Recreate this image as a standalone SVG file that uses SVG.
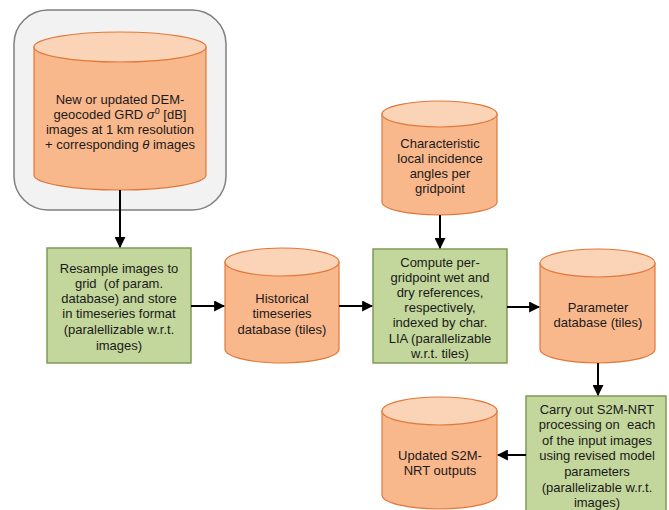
<svg xmlns="http://www.w3.org/2000/svg" width="669" height="510" viewBox="0 0 669 510">
<defs>
<style>
.cyl-body{fill:#F9B78C;stroke:#E0783A;stroke-width:1.2}
.cyl-top{fill:#FBD3B6;stroke:#E0783A;stroke-width:1.2}
.box{fill:#C3D69B;stroke:#7F9A5A;stroke-width:1.5}
.frame{fill:#F2F2F2;stroke:#7F7F7F;stroke-width:1.5}
text{font-family:"Liberation Sans",Arial,sans-serif;font-size:13px;fill:#1a1a1a;text-anchor:middle;white-space:pre}
.conn{stroke:#000;stroke-width:2;fill:none;marker-end:url(#arr)}
</style>
<marker id="arr" viewBox="0 0 10 10" refX="9" refY="5" markerWidth="5.5" markerHeight="5.5" markerUnits="strokeWidth" orient="auto">
<path d="M0,0 L10,5 L0,10 z" fill="#000"/>
</marker>
</defs>
<rect width="669" height="510" fill="#fff"/>

<g id="frame">
<rect class="frame" x="14" y="10" width="212" height="200" rx="34" ry="34"/>
</g>

<g id="n-input">
<path class="cyl-body" d="M34,47 L34,175 A86,15 0 0 0 206,175 L206,47 Z"/>
<ellipse class="cyl-top" cx="120" cy="47" rx="86" ry="15"/>
<text x="120" y="104">New or updated DEM-</text>
<text x="120" y="119">geocoded GRD <tspan font-style="italic">σ</tspan><tspan font-size="9" dy="-5">0</tspan><tspan dy="5"> [dB]</tspan></text>
<text x="120" y="134">images at 1 km resolution</text>
<text x="120" y="149">+ corresponding <tspan font-style="italic">θ</tspan> images</text>
</g>

<g id="n-resample">
<rect class="box" x="47" y="248" width="144" height="115"/>
<text x="119" y="273">Resample images to</text>
<text x="119" y="288" xml:space="preserve">grid  (of param.</text>
<text x="119" y="303">database) and store</text>
<text x="119" y="318">in timeseries format</text>
<text x="119" y="334">(paralellizable w.r.t.</text>
<text x="119" y="350">images)</text>
</g>

<g id="n-hist">
<path class="cyl-body" d="M225,262 L225,349 A57,14 0 0 0 339,349 L339,262 Z"/>
<ellipse class="cyl-top" cx="282" cy="262" rx="57" ry="14"/>
<text x="282" y="303">Historical</text>
<text x="282" y="318">timeseries</text>
<text x="282" y="334">database (tiles)</text>
</g>

<g id="n-lia">
<path class="cyl-body" d="M382,114 L382,202 A57.5,13 0 0 0 497,202 L497,114 Z"/>
<ellipse class="cyl-top" cx="439.5" cy="114" rx="57.5" ry="13"/>
<text x="440" y="148">Characteristic</text>
<text x="440" y="163">local incidence</text>
<text x="440" y="178">angles per</text>
<text x="440" y="193">gridpoint</text>
</g>

<g id="n-compute">
<rect class="box" x="373" y="249" width="134" height="114"/>
<text x="440" y="267">Compute per-</text>
<text x="440" y="282">gridpoint wet and</text>
<text x="440" y="297">dry references,</text>
<text x="440" y="312">respectively,</text>
<text x="440" y="327">indexed by char.</text>
<text x="440" y="343">LIA (parallelizable</text>
<text x="440" y="358">w.r.t. tiles)</text>
</g>

<g id="n-param">
<path class="cyl-body" d="M540,263 L540,349 A57.5,14 0 0 0 655,349 L655,263 Z"/>
<ellipse class="cyl-top" cx="597.5" cy="263" rx="57.5" ry="14"/>
<text x="598" y="312">Parameter</text>
<text x="598" y="327">database (tiles)</text>
</g>

<g id="n-s2m">
<rect class="box" x="526" y="396" width="140" height="118"/>
<text x="597" y="414">Carry out S2M-NRT</text>
<text x="597" y="429" xml:space="preserve">processing on  each</text>
<text x="597" y="445">of the input images</text>
<text x="597" y="460">using revised model</text>
<text x="597" y="476">parameters</text>
<text x="597" y="492">(parallelizable w.r.t.</text>
<text x="597" y="507">images)</text>
</g>

<g id="n-out">
<path class="cyl-body" d="M382,411 L382,495 A57.5,14 0 0 0 497,495 L497,411 Z"/>
<ellipse class="cyl-top" cx="439.5" cy="411" rx="57.5" ry="14"/>
<text x="440" y="460">Updated S2M-</text>
<text x="440" y="475">NRT outputs</text>
</g>

<g id="connectors">
<line class="conn" x1="120" y1="190" x2="120" y2="247"/>
<line class="conn" x1="191" y1="306" x2="224" y2="306"/>
<line class="conn" x1="339" y1="306" x2="372" y2="306"/>
<line class="conn" x1="440" y1="215" x2="440" y2="248"/>
<line class="conn" x1="507" y1="307" x2="539" y2="307"/>
<line class="conn" x1="598" y1="363" x2="598" y2="395"/>
<line class="conn" x1="526" y1="455" x2="498" y2="455"/>
</g>
</svg>
